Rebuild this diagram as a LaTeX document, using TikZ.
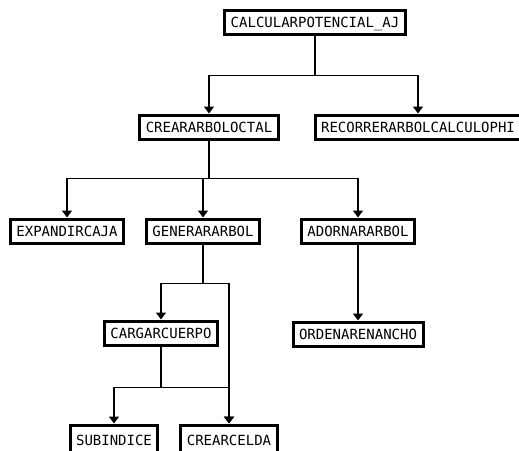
\documentclass[tikz,border=0pt]{standalone}
\usepackage{fontspec}
\setmonofont{DejaVu Sans Mono}
\usepackage{tikz}
\usetikzlibrary{arrows.meta}
\tikzset{every picture/.style={line width=1.7pt}}

\begin{document}
\begin{tikzpicture}[x=1pt,y=1pt,>={Triangle[width=10pt,length=7pt]},
    modulo/.style={draw, line width=3pt, fill=white, inner xsep=6pt, minimum height=24pt,
        text height=10.5pt, text depth=0pt, font=\ttfamily\fontsize{14}{16}\selectfont}]
        \path[use as bounding box, clip] (0,0) rectangle (519,-450);
        \node[modulo] (calc) at (315,-22) {CALCULARPOTENCIAL\_AJ};
        \node[modulo,below of=calc,node distance=105pt,xshift=-106pt] (crear) {CREARARBOLOCTAL};
        \node[modulo,right of=crear,node distance=209pt] (recorrer) {RECORRERARBOLCALCULOPHI};
        \node[modulo,below of=crear,node distance=104pt,xshift=-142pt] (expandir) {EXPANDIRCAJA};
        \node[modulo,below of=crear,node distance=104pt,xshift=-6pt] (generar) {GENERARARBOL};
        \node[modulo,below of=crear,node distance=104pt,xshift=149pt] (adornar) {ADORNARARBOL};
        \node[modulo,below of=generar,node distance=102pt,xshift=-42pt] (cargar) {CARGARCUERPO};
        \node[modulo,below of=adornar,node distance=103pt] (ordenar) {ORDENARENANCHO};
        \node[modulo,minimum height=30pt,below of=cargar,node distance=107pt,xshift=-47pt] (subindice) {SUBINDICE};
        \node[modulo,minimum height=30pt,below of=cargar,node distance=107pt,xshift=68pt] (crearcelda) {CREARCELDA};
        % ramas
        \draw (calc.south) -- ++(0,-40) coordinate (r1);
        \draw[->] (r1) -| (crear.north);
        \draw[->] (r1) -| (recorrer.north);
        \draw (crear.south) -- ++(0,-38) coordinate (r2);
        \draw[->] (r2) -| (expandir.north);
        \draw[->] (r2) -| (generar.north);
        \draw[->] (r2) -| (adornar.north);
        \draw (generar.south) -- ++(0,-39) coordinate (r3);
        \draw[->] (r3) -| (cargar.north);
        \draw[->] (r3) -| (crearcelda.north);
        \draw[->] (adornar) -- (ordenar);
        \draw (cargar.south) -- ++(0,-41) coordinate (r4);
        \draw[->] (r4) -| (subindice.north);
        \draw[->] (r4) -| (crearcelda.north);
    \end{tikzpicture}
\end{document}
